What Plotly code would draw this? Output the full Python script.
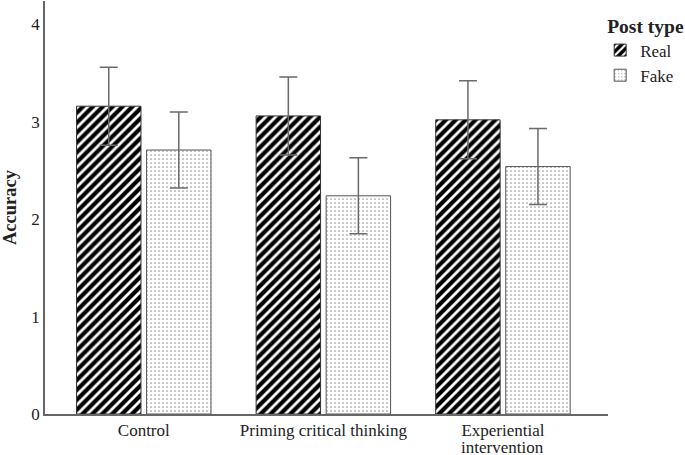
import plotly.graph_objects as go

categories = ["Control", "Priming critical thinking", "Experiential intervention"]
tick_text = ["Control", "Priming critical thinking", "Experiential"]
tick_extra_line = "intervention"
real_values = [3.16, 3.06, 3.02]
real_errors = [0.40, 0.40, 0.40]
fake_values = [2.71, 2.24, 2.54]
fake_errors = [0.39, 0.39, 0.39]
y_ticks = [0, 1, 2, 3, 4]

FONT = "Liberation Serif, Times New Roman, serif"

fig = go.Figure()
fig.add_trace(go.Bar(
    name="Real", x=categories, y=real_values,
    marker=dict(color="black", line=dict(color="#333", width=1),
                pattern=dict(shape="/", fgcolor="white", bgcolor="black",
                             size=7, solidity=0.4, fillmode="replace")),
    error_y=dict(type="data", array=real_errors, color="#6a6a6a", thickness=1.5, width=9),
))
fig.add_trace(go.Bar(
    name="Fake", x=categories, y=fake_values,
    marker=dict(color="white", line=dict(color="#555", width=1),
                pattern=dict(shape=".", fgcolor="#999", bgcolor="white",
                             size=4, solidity=0.15, fillmode="replace")),
    error_y=dict(type="data", array=fake_errors, color="#6a6a6a", thickness=1.5, width=9),
))

fig.add_annotation(
    x=categories[2], y=0, xref="x", yref="paper", yshift=-33,
    text=tick_extra_line, showarrow=False, yanchor="middle",
    font=dict(size=17, family=FONT, color="#222"),
)

fig.update_layout(
    width=685, height=455,
    margin=dict(l=45, r=77, t=1, b=41, autoexpand=False),
    paper_bgcolor="white", plot_bgcolor="white",
    barmode="group", bargap=0.22, bargroupgap=0.08,
    font=dict(family=FONT, size=17, color="#222"),
    showlegend=True,
    legend=dict(
        title=dict(text="<b>Post type</b>", font=dict(size=19.5, family=FONT, color="#222"), side="top"),
        x=0.995, y=0.985, xanchor="left", yanchor="top",
        font=dict(size=17, family=FONT, color="#222"),
        itemwidth=30, tracegroupgap=0, bgcolor="rgba(0,0,0,0)", indentation=-5,
    ),
    xaxis=dict(
        range=[-0.55, 2.585], showline=True, linecolor="#666", linewidth=1.5,
        ticks="", showgrid=False, automargin=False,
        tickvals=categories, ticktext=tick_text,
        tickfont=dict(size=17, family=FONT, color="#222"),
    ),
    yaxis=dict(
        range=[0, 4.24], tickvals=y_ticks, showline=True, linecolor="#666", linewidth=1.5,
        ticks="", showgrid=False, zeroline=False, automargin=False,
        tickfont=dict(size=17, family=FONT, color="#222"),
        title=dict(text="<b>Accuracy</b>", font=dict(size=18.5, family=FONT, color="#222"), standoff=12),
    ),
)

fig.write_html("out.html", config={"displayModeBar": False},
               post_script="document.body.style.margin='0';document.body.style.padding='0';")
